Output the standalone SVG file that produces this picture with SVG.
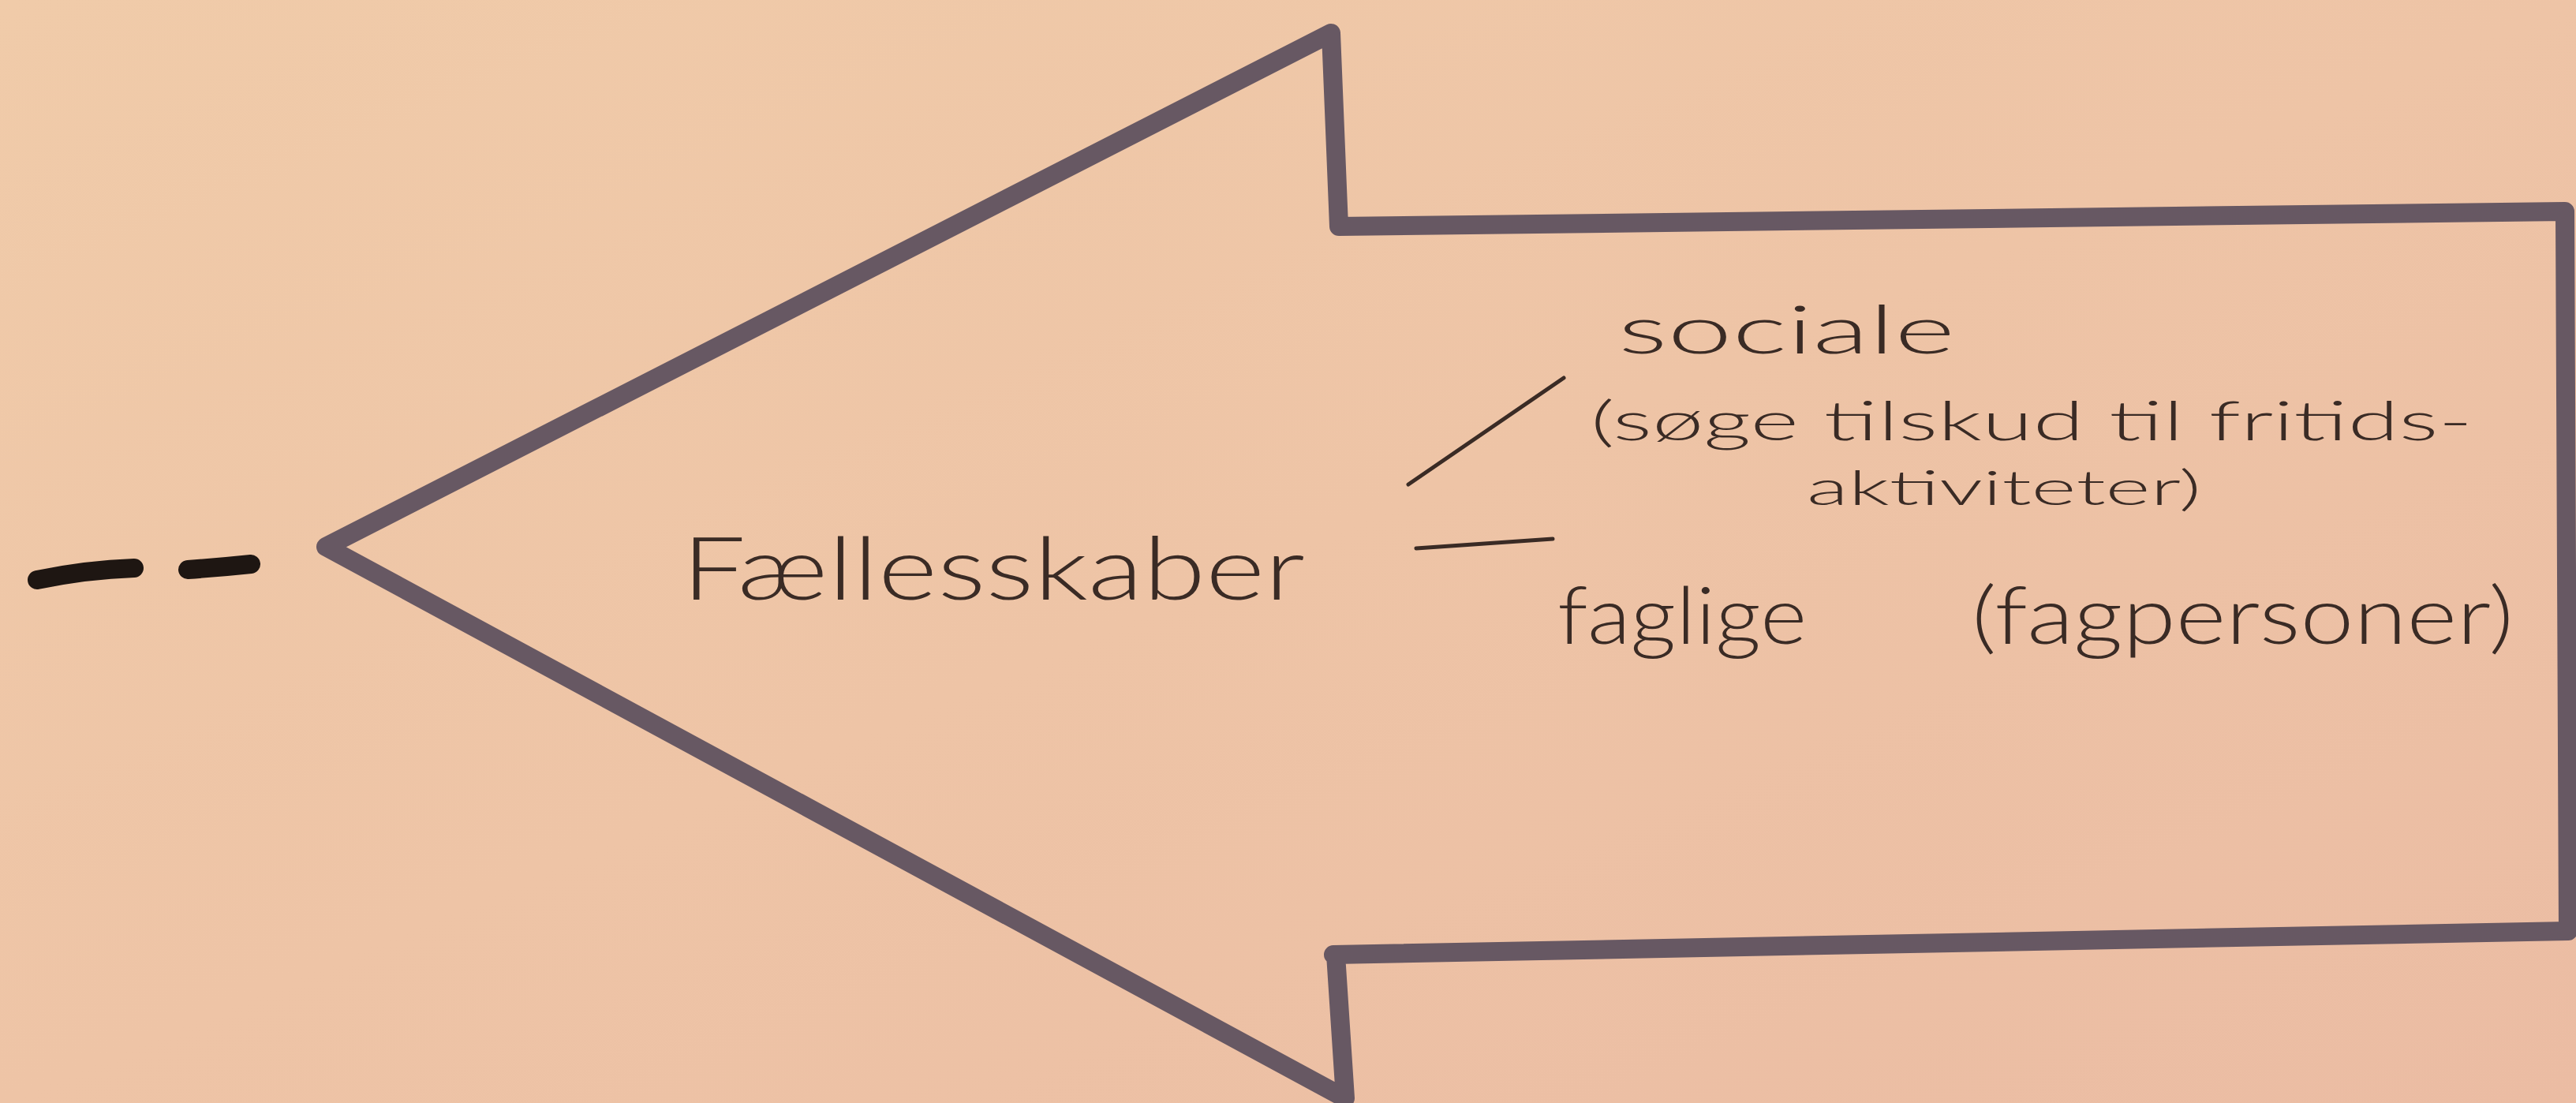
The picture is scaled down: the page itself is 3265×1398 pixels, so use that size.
<svg xmlns="http://www.w3.org/2000/svg" width="3265" height="1398" viewBox="0 0 3265 1398">
  <style>
    .outline { fill: none; stroke: #675863; stroke-width: 24; stroke-linejoin: round; stroke-linecap: round; }
    .hand { font-family: Lato, "Open Sans", "Liberation Sans", sans-serif; font-weight: 300; fill: #3a2b25; }
    .pen { fill: none; stroke: #3a2b25; stroke-width: 5; stroke-linecap: round; }
    .blob { fill: none; stroke: #1e1612; stroke-width: 24; stroke-linecap: round; }
  </style>
  <defs>
    <linearGradient id="paper" x1="0" y1="0" x2="1" y2="1">
      <stop offset="0" stop-color="#f0cba9"/>
      <stop offset="0.5" stop-color="#eec4a6"/>
      <stop offset="1" stop-color="#ebbca3"/>
    </linearGradient>
  </defs>
  <rect width="3265" height="1398" fill="url(#paper)"/>

  <g id="lead-dashes">
    <path class="blob" d="M 47 735 Q 110 722 170 720"/>
    <path class="blob" d="M 238 722 Q 280 719 318 715"/>
  </g>

  <g id="arrow">
    <path class="outline" d="M 1705 1392 L 413 693 L 1687 42 L 1697 287 L 3251 268 L 3255 1180 L 1690 1210 L 1693 1210 L 1705 1392"/>
    <text class="hand" x="864" y="760" font-size="110" textLength="790" lengthAdjust="spacingAndGlyphs">Fællesskaber</text>
  </g>

  <g id="connectors">
    <line class="pen" x1="1785" y1="614" x2="1982" y2="479"/>
    <line class="pen" x1="1795" y1="695" x2="1968" y2="683"/>
  </g>

  <g id="sociale">
    <text class="hand" x="2051" y="448" font-size="85" textLength="427" lengthAdjust="spacingAndGlyphs">sociale</text>
    <text class="hand" x="2016" y="558" font-size="68" textLength="1118" lengthAdjust="spacingAndGlyphs">(søge tilskud til fritids-</text>
    <text class="hand" x="2290" y="640" font-size="62" textLength="500" lengthAdjust="spacingAndGlyphs">aktiviteter)</text>
  </g>

  <g id="faglige">
    <text class="hand" x="1974" y="816" font-size="100" textLength="316" lengthAdjust="spacingAndGlyphs">faglige</text>
    <text class="hand" x="2499" y="816" font-size="100" textLength="687" lengthAdjust="spacingAndGlyphs">(fagpersoner)</text>
  </g>
</svg>
